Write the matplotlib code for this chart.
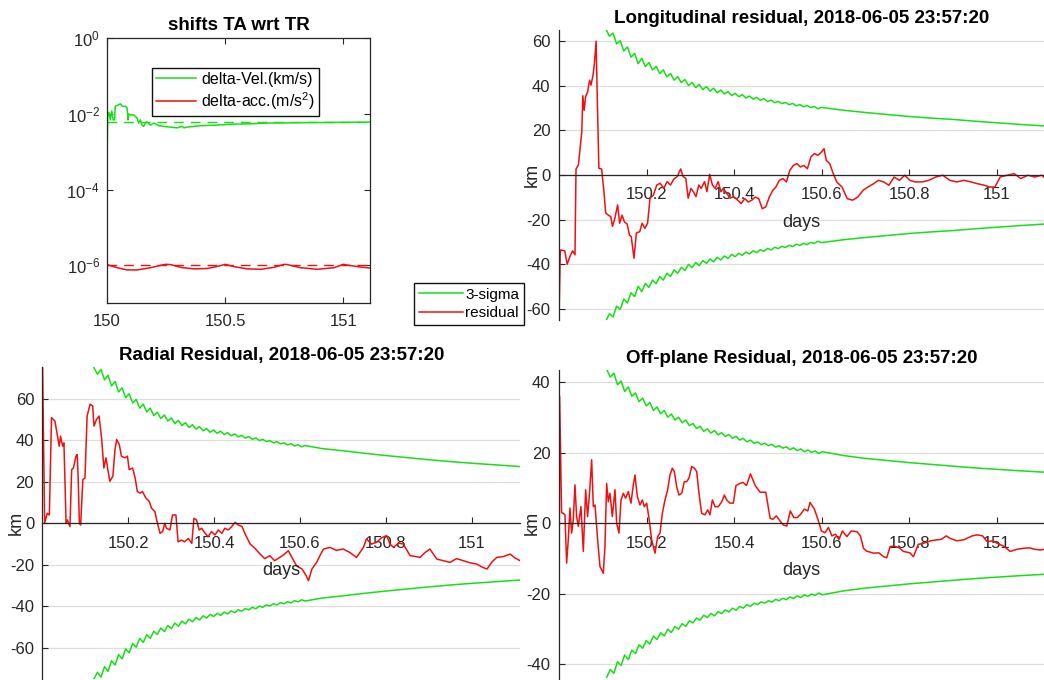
import numpy as np
import matplotlib
matplotlib.use("Agg")
import matplotlib.pyplot as plt
from matplotlib.lines import Line2D
from matplotlib.ticker import NullLocator

plt.rcParams.update({
    "font.family": "Liberation Sans",
    "mathtext.fontset": "custom",
    "mathtext.rm": "Liberation Sans",
    "mathtext.it": "Liberation Sans:italic",
    "mathtext.bf": "Liberation Sans:bold",
    "axes.linewidth": 0.9,
})
GREEN, RED, AXC = "#14e014", "#ee1111", "#262626"
DAY0 = 150.0
STAMP = "2018-06-05 23:57:20"

# ---- top-left: velocity / acceleration shifts (log scale) -------------------
vel_t = [0.0, 0.001, 0.0027, 0.008, 0.014, 0.020, 0.026, 0.032, 0.035, 0.045,
         0.056, 0.065, 0.078, 0.085, 0.089, 0.092, 0.099, 0.113, 0.127, 0.134,
         0.141, 0.148, 0.155, 0.162, 0.169, 0.184, 0.198, 0.219, 0.240, 0.268,
         0.297, 0.318, 0.325, 0.339, 0.367, 0.395, 0.466, 0.537, 0.607, 0.678,
         0.819, 0.960, 1.114]
vel = [5e-8, 1.5e-3, 8.6e-3, 1.1e-2, 7.0e-3, 1.2e-2, 7.0e-3, 7.0e-3, 1.6e-2, 1.7e-2,
       1.86e-2, 1.6e-2, 1.58e-2, 1.45e-2, 7.0e-3, 1.0e-2, 9.5e-3, 9.5e-3, 7.8e-3, 5.75e-3,
       7.0e-3, 5.1e-3, 4.7e-3, 5.75e-3, 6.2e-3, 5.1e-3, 5.75e-3, 4.9e-3, 4.7e-3, 4.5e-3,
       4.3e-3, 4.7e-3, 4.3e-3, 4.5e-3, 4.7e-3, 4.9e-3, 5.1e-3, 5.4e-3, 5.5e-3, 5.75e-3,
       5.9e-3, 6.0e-3, 6.1e-3]
vel_ref = 6.2e-3
acc_t = [0.0, 0.043, 0.085, 0.127, 0.184, 0.225, 0.250, 0.270, 0.311, 0.367,
         0.424, 0.470, 0.500, 0.537, 0.593, 0.650, 0.706, 0.750, 0.763, 0.819,
         0.890, 0.960, 1.000, 1.017, 1.060, 1.114]
acc = [1.05e-6, 8.7e-7, 7.6e-7, 7.6e-7, 8.7e-7, 1.0e-6, 1.07e-6, 1.05e-6, 8.9e-7, 8.1e-7,
       8.3e-7, 9.5e-7, 1.07e-6, 9.3e-7, 8.1e-7, 7.9e-7, 8.9e-7, 1.07e-6, 1.05e-6, 8.7e-7,
       7.9e-7, 8.7e-7, 1.07e-6, 1.02e-6, 9.3e-7, 8.5e-7]
acc_ref = 1.05e-6

# ---- residuals (km) vs day offset ------------------------------------------
lon_t = [0.0, 0.0031, 0.0132, 0.0187, 0.0249, 0.0311, 0.0366, 0.0389, 0.0444, 0.0482,
         0.0521, 0.0545, 0.0576, 0.0607, 0.0654, 0.0700, 0.0732, 0.0778, 0.0809, 0.0848,
         0.0872, 0.0911, 0.0973, 0.1027, 0.1066, 0.1128, 0.1183, 0.1222, 0.1276, 0.1339,
         0.1385, 0.1440, 0.1494, 0.1556, 0.1611, 0.1650, 0.1712, 0.1767, 0.1844, 0.1899,
         0.1961, 0.2023, 0.2078, 0.2156, 0.2233, 0.2311, 0.2389, 0.2467, 0.2545, 0.2623,
         0.2700, 0.2778, 0.2833, 0.2895, 0.2949, 0.3012, 0.3066, 0.3128, 0.3191, 0.3245,
         0.3323, 0.3377, 0.3440, 0.3502, 0.3564, 0.3634, 0.3696, 0.3751, 0.3829, 0.3907,
         0.3984, 0.408, 0.416, 0.424, 0.432, 0.440, 0.448, 0.456, 0.464, 0.472,
         0.480, 0.488, 0.495, 0.503, 0.511, 0.519, 0.527, 0.535, 0.543, 0.551,
         0.559, 0.567, 0.575, 0.583, 0.591, 0.599, 0.605, 0.610, 0.618, 0.626,
         0.634, 0.646, 0.658, 0.670, 0.682, 0.694, 0.705, 0.718, 0.729, 0.741,
         0.753, 0.765, 0.777, 0.789, 0.801, 0.813, 0.829, 0.844, 0.860, 0.876,
         0.892, 0.908, 0.924, 0.940, 0.955, 0.971, 0.983, 0.995, 1.007, 1.023,
         1.039, 1.054, 1.070, 1.086, 1.102, 1.107]
lon_r = [-66, -33.6, -34.0, -40.0, -36.6, -34.0, -35.8, 2.7, 4.5, 11.9,
         19.4, 35.5, 29.0, 35.0, 37.3, 42.5, 40.3, 44.8, 50.0, 60.0,
         37.0, 3.0, 2.7, -7.5, -17.0, -18.0, -18.7, -23.0, -19.4, -13.4,
         -21.6, -18.0, -21.0, -22.0, -27.0, -27.6, -37.3, -26.0, -25.4, -21.6,
         -23.9, -21.6, -10.4, -9.0, -4.5, -3.7, -6.0, -3.0, -4.5, -1.8,
         -0.7, 2.7, -0.7, -1.5, -10.4, -6.0, -7.5, -9.7, -4.5, -6.0,
         -3.0, -7.5, 0.3, -4.5, -6.0, -3.0, -7.5, -6.0, -8.2, -10.4,
         -9.7, -11.3, -12.8, -10.6, -12.1, -11.3, -9.9, -10.6, -15.1, -14.3,
         -9.9, -6.9, -5.4, -2.4, -1.6, -3.1, 2.1, 4.3, 5.1, 3.6,
         4.3, 2.8, 8.1, 9.6, 8.8, 10.3, 11.8, 6.6, 5.1, 0.6,
         -3.1, -5.4, -10.6, -11.3, -9.9, -6.9, -5.4, -3.9, -2.4, -3.1,
         -4.6, -0.9, -2.4, -0.1, -2.4, -3.1, -3.1, -2.4, -0.9, -0.1,
         -2.4, -3.1, -2.4, -3.1, -3.9, -4.6, -5.4, -5.4, -0.9, -0.1,
         0.6, -1.6, -0.1, -0.9, -0.1, -1.0]

rad_t = [0.000, 0.005, 0.011, 0.016, 0.021, 0.029, 0.035, 0.039, 0.042, 0.047,
         0.050, 0.055, 0.058, 0.064, 0.068, 0.072, 0.078, 0.081, 0.083, 0.086,
         0.089, 0.094, 0.099, 0.104, 0.111, 0.117, 0.120, 0.126, 0.132, 0.138,
         0.143, 0.148, 0.153, 0.157, 0.164, 0.169, 0.173, 0.179, 0.184, 0.192,
         0.198, 0.202, 0.210, 0.216, 0.221, 0.227, 0.233, 0.241, 0.249, 0.254,
         0.262, 0.267, 0.274, 0.280, 0.285, 0.289, 0.297, 0.303, 0.311, 0.316,
         0.324, 0.331, 0.340, 0.348, 0.353, 0.359, 0.365, 0.371, 0.379, 0.386,
         0.394, 0.402, 0.410, 0.418, 0.425, 0.433, 0.441, 0.449, 0.456, 0.465,
         0.472, 0.484, 0.495, 0.507, 0.518, 0.530, 0.541, 0.553, 0.563, 0.573,
         0.583, 0.592, 0.605, 0.614, 0.620, 0.628, 0.639, 0.648, 0.655, 0.670,
         0.685, 0.701, 0.716, 0.732, 0.748, 0.755, 0.767, 0.779, 0.790, 0.802,
         0.810, 0.818, 0.830, 0.841, 0.857, 0.870, 0.880, 0.892, 0.903, 0.919,
         0.935, 0.950, 0.965, 0.981, 0.996, 1.012, 1.024, 1.036, 1.048, 1.059,
         1.075, 1.090, 1.100, 1.113]
rad_r = [78, 0.0, 4.8, 4.0, 50.8, 49.2, 41.9, 37.1, 41.9, 37.1,
         38.7, 0.0, 1.6, -1.6, 25.8, 26.6, 32.3, 33.1, 22.6, 0.0,
         -0.8, 21.0, 21.8, 51.6, 57.3, 56.5, 46.8, 50.0, 51.6, 40.3,
         26.6, 31.5, 25.0, 20.2, 22.6, 35.5, 40.3, 37.9, 32.3, 31.5,
         32.3, 25.8, 26.6, 21.8, 15.3, 14.5, 15.3, 12.1, 10.5, 7.3,
         5.6, 0.8, -4.8, -4.0, 0.0, -2.4, -3.2, 4.0, 4.0, -8.9,
         -8.1, -8.9, -7.3, -9.7, 2.4, 1.6, -3.2, -2.4, -4.8, -6.5,
         -4.0, -5.6, -3.2, -4.8, -2.4, -3.2, -1.6, 0.5, -0.8, -1.5,
         -5.0, -10.0, -12.0, -14.8, -17.0, -15.6, -18.0, -16.4, -15.0, -13.2,
         -17.0, -20.4, -22.0, -25.0, -27.6, -22.0, -18.8, -15.0, -12.4, -11.6,
         -13.0, -12.4, -14.0, -16.4, -11.6, -7.5, -10.0, -9.1, -7.0, -5.9,
         -10.0, -11.6, -9.5, -10.0, -15.6, -16.0, -16.4, -14.0, -12.4, -17.2,
         -18.0, -18.8, -17.0, -18.0, -19.0, -19.6, -21.0, -22.0, -18.5, -16.4,
         -16.0, -14.8, -16.5, -18.0]

off_t = [0.0000, 0.0015, 0.0060, 0.0099, 0.0137, 0.0175, 0.0213, 0.0251, 0.0289, 0.0327,
         0.0365, 0.0403, 0.0441, 0.0502, 0.0556, 0.0609, 0.0654, 0.0700, 0.0746, 0.0784,
         0.0822, 0.0883, 0.0936, 0.1012, 0.1050, 0.1088, 0.1126, 0.1164, 0.1218, 0.1279,
         0.1317, 0.1370, 0.1416, 0.1469, 0.1522, 0.1583, 0.1644, 0.1697, 0.1735, 0.1788,
         0.1849, 0.1903, 0.1948, 0.2002, 0.2055, 0.2116, 0.2192, 0.2253, 0.2306, 0.2359,
         0.2420, 0.2481, 0.2534, 0.2588, 0.2633, 0.2686, 0.2740, 0.2801, 0.2861, 0.2915,
         0.2968, 0.3029, 0.3090, 0.3143, 0.3196, 0.3257, 0.3333, 0.3394, 0.3447, 0.3501,
         0.3562, 0.3638, 0.3714, 0.3775, 0.3828, 0.3904, 0.3980, 0.404, 0.413, 0.420,
         0.428, 0.437, 0.448, 0.459, 0.472, 0.482, 0.488, 0.496, 0.504, 0.512,
         0.520, 0.528, 0.536, 0.544, 0.552, 0.560, 0.568, 0.573, 0.583, 0.591,
         0.599, 0.607, 0.615, 0.623, 0.631, 0.639, 0.647, 0.657, 0.667, 0.680,
         0.688, 0.695, 0.702, 0.718, 0.730, 0.741, 0.748, 0.756, 0.765, 0.777,
         0.786, 0.801, 0.809, 0.820, 0.832, 0.848, 0.863, 0.872, 0.884, 0.893,
         0.908, 0.924, 0.943, 0.954, 0.967, 0.977, 0.991, 1.000, 1.015, 1.030,
         1.045, 1.061, 1.074, 1.086, 1.099, 1.107]
off_r = [-46, 36.0, 3.0, 2.8, 2.4, -11.3, -4.7, 4.3, -2.8, 0.9,
         10.9, 1.9, -0.9, 4.7, -8.0, 9.5, 1.9, 9.0, 18.0, 4.7,
         5.2, -4.7, -12.3, -14.2, -6.6, 11.3, 6.1, 8.5, 1.9, 9.5,
         0.0, -2.8, 6.6, 8.5, 7.1, 9.0, 5.7, 10.9, 13.7, 7.6,
         5.2, 6.6, 4.7, 5.7, 1.4, -4.7, -8.5, -3.8, -2.8, 2.8,
         6.6, 9.5, 13.7, 15.6, 14.7, 10.4, 8.0, 8.5, 11.8, 11.8,
         12.8, 16.1, 15.6, 14.7, 8.5, 2.8, 2.4, 3.8, 2.4, 6.6,
         4.7, 4.7, 6.1, 8.0, 6.6, 5.7, 5.7, 10.7, 11.3, 11.6,
         10.7, 14.0, 10.7, 8.8, 8.8, 1.4, 1.1, 2.1, 0.7, -0.5,
         -0.8, 3.5, 1.6, 1.6, 2.6, 4.0, 3.5, 5.9, 4.0, 1.1,
         -2.2, -2.7, -1.2, -3.6, -3.1, -4.6, -2.2, -3.8, -2.2, -2.4,
         -3.6, -7.1, -7.9, -8.5, -8.4, -9.5, -9.8, -6.6, -6.5, -7.0,
         -8.0, -8.4, -9.5, -6.0, -5.7, -5.0, -4.7, -4.6, -3.6, -4.3,
         -5.0, -4.7, -3.6, -3.3, -3.6, -5.2, -5.0, -5.7, -6.5, -8.0,
         -7.4, -7.1, -7.0, -7.4, -7.6, -7.4]

# ---- 3-sigma envelopes (km): rippled start, then smooth tail ---------------
SIG_STEP = 0.0082
lon_sig_t0 = 0.107
lon_sig_head = [65.5, 62.2, 63.6, 58.8, 60.2, 55.6, 57.4, 52.8, 54.5, 49.9,
                52.3, 48.6, 50.4, 47.1, 48.7, 45.5, 47.1, 44.0, 45.5, 42.5,
                44.1, 41.4, 42.8, 40.1, 41.5, 39.2, 40.6, 38.3, 39.6, 37.6,
                38.9, 36.9, 38.1, 36.3, 37.4, 35.6, 36.6, 35.1, 36.0, 34.5,
                35.4, 34.0, 34.8, 33.5, 34.2, 32.9, 33.6, 32.4, 33.0, 32.0,
                32.5, 31.5, 32.1, 31.0, 31.6, 30.6, 31.2, 30.2, 30.7, 29.7, 30.3]
lon_sig_tail_t = [0.65, 0.70, 0.75, 0.80, 0.85, 0.90, 0.95, 1.00, 1.05, 1.107]
lon_sig_tail = [29.0, 28.0, 27.1, 26.2, 25.5, 24.9, 24.1, 23.4, 22.7, 22.0]

rad_sig_t0 = 0.120
rad_sig_head = [74.8, 71.7, 74.0, 69.0, 71.2, 66.1, 68.2, 63.2, 65.2, 60.4,
                62.3, 57.9, 59.6, 55.4, 57.3, 53.6, 55.4, 51.9, 53.4, 50.4,
                52.1, 49.2, 50.7, 48.0, 49.5, 47.0, 48.4, 46.1, 47.4, 45.3,
                46.5, 44.5, 45.6, 43.8, 44.9, 43.3, 44.3, 42.7, 43.6, 42.1,
                43.0, 41.6, 42.3, 41.0, 41.7, 40.4, 41.1, 39.8, 40.4, 39.3,
                39.8, 38.7, 39.3, 38.2, 38.7, 37.7, 38.3, 37.2, 37.8, 36.8, 37.4]
rad_sig_tail_t = [0.65, 0.70, 0.75, 0.80, 0.85, 0.90, 0.95, 1.00, 1.05, 1.113]
rad_sig_tail = [36.0, 34.9, 33.7, 32.6, 31.6, 30.6, 29.7, 28.9, 28.2, 27.3]

off_sig_t0 = 0.109
off_sig_head = [43.7, 41.5, 42.6, 39.3, 40.4, 37.4, 38.7, 36.0, 37.0, 34.5,
                35.5, 33.3, 34.3, 32.0, 33.0, 31.1, 32.0, 30.1, 31.0, 29.3,
                30.1, 28.5, 29.3, 27.7, 28.3, 26.9, 27.5, 26.1, 26.8, 25.6,
                26.3, 25.1, 25.7, 24.6, 25.2, 24.1, 24.7, 23.6, 24.1, 23.1,
                23.6, 22.7, 23.1, 22.3, 22.7, 22.0, 22.4, 21.6, 22.0, 21.3,
                21.7, 20.9, 21.4, 20.6, 21.1, 20.3, 20.8, 20.1, 20.5, 19.8, 20.3]
off_sig_tail_t = [0.65, 0.70, 0.75, 0.80, 0.85, 0.90, 0.95, 1.00, 1.05, 1.107]
off_sig_tail = [19.2, 18.4, 17.8, 17.2, 16.7, 16.2, 15.7, 15.3, 14.9, 14.5]


def sigma_series(t0, head, tail_t, tail):
    t = np.concatenate([t0 + SIG_STEP * np.arange(len(head)), tail_t])
    return DAY0 + t, np.concatenate([head, tail])


def residual_panel(ax, title, t, r, sig, ylim, yticks, xmax):
    st, sv = sig
    ax.plot(st, sv, color=GREEN, lw=1.1)
    ax.plot(st, -sv, color=GREEN, lw=1.1)
    ax.plot(DAY0 + np.asarray(t), r, color=RED, lw=1.1)
    ax.set_xlim(DAY0, xmax)
    ax.set_ylim(*ylim)
    for s in ("top", "right"):
        ax.spines[s].set_visible(False)
    ax.spines["bottom"].set_position(("data", 0))
    for s in ("bottom", "left"):
        ax.spines[s].set_color(AXC)
    ax.set_xticks([150.2, 150.4, 150.6, 150.8, 151.0])
    ax.set_xticklabels(["150.2", "150.4", "150.6", "150.8", "151"])
    ax.set_yticks(yticks)
    ax.set_yticklabels([str(v) for v in yticks])
    ax.tick_params(axis="x", direction="in", length=4, pad=9, labelsize=12,
                   colors=AXC)
    ax.tick_params(axis="y", direction="in", length=4, pad=6, labelsize=12,
                   colors=AXC)
    ax.yaxis.grid(True, color="#dedede", lw=0.9)
    ax.set_axisbelow(True)
    ax.set_title(title, fontsize=13.5, fontweight="bold", pad=5)
    ax.annotate("days", xy=(0.5, 0), xycoords=("axes fraction", "data"),
                xytext=(0, -34), textcoords="offset points", ha="center",
                va="center", fontsize=13, color=AXC)
    ax.annotate("km", xy=(0, 0), xycoords=("axes fraction", "data"),
                xytext=(-19, 0), textcoords="offset points", ha="center",
                va="center", rotation=90, fontsize=13, color=AXC)


fig = plt.figure(figsize=(10.44, 6.8), dpi=100)

# top-left
ax0 = fig.add_axes([0.1025, 0.554, 0.2522, 0.3897])
lv, = ax0.semilogy(DAY0 + np.asarray(vel_t), vel, color=GREEN, lw=1.1,
                   label="delta-Vel.(km/s)")
la, = ax0.semilogy(DAY0 + np.asarray(acc_t), acc, color=RED, lw=1.1,
                   label="delta-acc.(m/s$^2$)")
ax0.axhline(vel_ref, color=GREEN, lw=1.0, dashes=(7, 5))
ax0.axhline(acc_ref, color=RED, lw=1.0, dashes=(7, 5))
ax0.set_xlim(150, 151.114)
ax0.set_ylim(1e-7, 1)
ax0.set_yticks([1e-6, 1e-4, 1e-2, 1])
ax0.yaxis.set_minor_locator(NullLocator())
ax0.set_xticks([150, 150.5, 151])
ax0.set_xticklabels(["150", "150.5", "151"])
ax0.tick_params(which="both", direction="in", top=True, right=True, length=4,
                labelsize=12, colors=AXC)
ax0.tick_params(axis="x", pad=8)
ax0.tick_params(axis="y", pad=5)
for s in ax0.spines.values():
    s.set_color(AXC)
ax0.set_title("shifts TA wrt TR", fontsize=13.5, fontweight="bold", pad=6)
ax0.legend(handles=[lv, la], loc="upper left", bbox_to_anchor=(0.172, 0.888),
           fontsize=11.5, fancybox=False, framealpha=1, edgecolor="#111111",
           borderaxespad=0, borderpad=0.25, labelspacing=0.2,
           handlelength=2.5, handletextpad=0.3)

# top-right
ax1 = fig.add_axes([0.5354, 0.5294, 0.4646, 0.4265])
residual_panel(ax1, f"Longitudinal residual, {STAMP}", lon_t, lon_r,
               sigma_series(lon_sig_t0, lon_sig_head, lon_sig_tail_t, lon_sig_tail),
               (-65, 65), [-60, -40, -20, 0, 20, 40, 60], 151.107)

# bottom-left
ax2 = fig.add_axes([0.0407, 0.0012, 0.4574, 0.4585])
residual_panel(ax2, f"Radial Residual, {STAMP}", rad_t, rad_r,
               sigma_series(rad_sig_t0, rad_sig_head, rad_sig_tail_t, rad_sig_tail),
               (-75, 75), [-60, -40, -20, 0, 20, 40, 60], 151.113)

# bottom-right
ax3 = fig.add_axes([0.5354, 0.0, 0.4646, 0.4559])
residual_panel(ax3, f"Off-plane Residual, {STAMP}", off_t, off_r,
               sigma_series(off_sig_t0, off_sig_head, off_sig_tail_t, off_sig_tail),
               (-44.5, 43.5), [-40, -20, 0, 20, 40], 151.107)

fig.legend(handles=[Line2D([], [], color=GREEN, lw=1.1),
                    Line2D([], [], color=RED, lw=1.1)],
           labels=["3-sigma", "residual"], loc="upper left",
           bbox_to_anchor=(0.3966, 0.5838), fontsize=11, fancybox=False,
           framealpha=1, edgecolor="#111111", borderaxespad=0, borderpad=0.3,
           labelspacing=0.3, handlelength=2.9, handletextpad=0.15)

fig.savefig("out.png", dpi=100)
